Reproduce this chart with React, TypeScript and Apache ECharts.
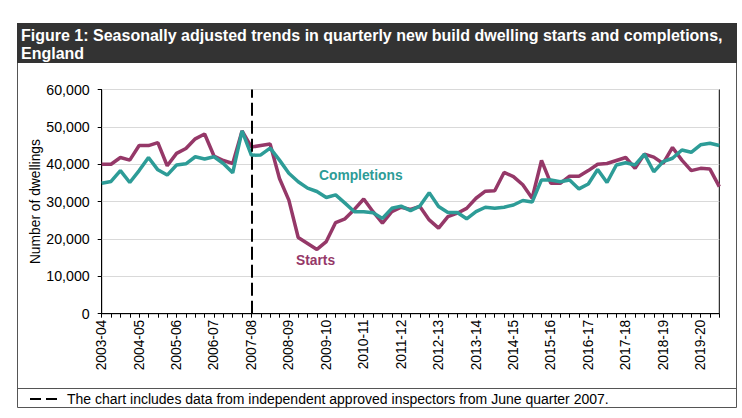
import React, { useEffect, useRef } from "react";
import * as echarts from "echarts";

const fiscalYears = [
  "2003-04", "2004-05", "2005-06", "2006-07", "2007-08", "2008-09",
  "2009-10", "2010-11", "2011-12", "2012-13", "2013-14", "2014-15",
  "2015-16", "2016-17", "2017-18", "2018-19", "2019-20",
];
const quarterNames = ["Apr-Jun", "Jul-Sep", "Oct-Dec", "Jan-Mar"];

// Seasonally adjusted quarterly new build dwelling starts, England (Apr-Jun 2003 to Oct-Dec 2019)
const starts = [
  40000, 40000, 41800, 41100, 45000, 45000, 45800, 39600,
  42900, 44200, 46800, 48100, 42200, 41000, 40200, 48900,
  44600, 45000, 45400, 36200, 30400, 20400, 18800, 17200,
  19300, 24400, 25400, 27900, 30700, 27300, 24200, 27300,
  28500, 27900, 28700, 25100, 22900, 26000, 26900, 28200,
  30900, 32800, 32900, 37800, 36700, 34500, 30900, 41000,
  34900, 34900, 36800, 36800, 38300, 40000, 40200, 41000,
  41800, 38900, 42700, 41900, 40200, 44500, 41100, 38300,
  38900, 38700, 34000,
];

// Seasonally adjusted quarterly new build dwelling completions, England
const completions = [
  34900, 35400, 38300, 35100, 38300, 41800, 38500, 37100,
  39800, 40100, 42000, 41400, 42000, 40200, 37700, 48900,
  42400, 42500, 44300, 41100, 37600, 35300, 33600, 32700,
  31100, 31800, 29600, 27300, 27300, 27000, 25500, 28200,
  28800, 27600, 28800, 32400, 28700, 27100, 27100, 25400,
  27300, 28500, 28200, 28500, 29100, 30300, 29900, 35800,
  35800, 35300, 35800, 33400, 34700, 38600, 35100, 39800,
  40400, 39800, 42700, 38000, 40700, 41600, 43800, 43200,
  45200, 45600, 45000,
];

const categories = fiscalYears
  .flatMap((y) => quarterNames.map((q) => `${y} ${q}`))
  .slice(0, starts.length);

const yTicks = [0, 10000, 20000, 30000, 40000, 50000, 60000];
const inspectorsFrom = "2007-08 Apr-Jun";

const titleLines = [
  "Figure 1: Seasonally adjusted trends in quarterly new build dwelling starts and completions,",
  "England",
];
const footnote =
  "The chart includes data from independent approved inspectors from June quarter 2007.";

const FONT = "'Liberation Sans', Arial, Helvetica, sans-serif";
const PURPLE = "#953868";
const TEAL = "#2D9C97";

export default function App() {
  const ref = useRef<HTMLDivElement>(null);

  useEffect(() => {
    if (!ref.current) return;
    const chart = echarts.init(ref.current, undefined, { renderer: "svg" });
    chart.setOption({
      animation: false,
      backgroundColor: "#ffffff",
      textStyle: { fontFamily: FONT },
      grid: {
        left: 101.7,
        right: 22.7,
        top: 89.5,
        bottom: 104.3,
        show: true,
        borderColor: "#000",
        borderWidth: 1,
        backgroundColor: "transparent",
      },
      xAxis: {
        type: "category",
        boundaryGap: false,
        data: categories,
        axisLine: { lineStyle: { color: "#000", width: 1 } },
        axisTick: { show: true, interval: 0, length: 4, lineStyle: { color: "#000" } },
        axisLabel: {
          interval: 3,
          rotate: 90,
          margin: 6,
          color: "#000",
          fontSize: 13.8,
          fontFamily: FONT,
          formatter: (v: string) => v.split(" ")[0],
        },
        splitLine: { show: false },
      },
      yAxis: {
        type: "value",
        min: yTicks[0],
        max: yTicks[yTicks.length - 1],
        interval: yTicks[1] - yTicks[0],
        name: "Number of dwellings",
        nameLocation: "middle",
        nameGap: 59,
        nameMoveOverlap: false,
        nameTextStyle: { color: "#000", fontSize: 13.8, fontFamily: FONT },
        axisLine: { show: true, lineStyle: { color: "#000", width: 1 } },
        axisTick: { show: true, length: 4, lineStyle: { color: "#000" } },
        axisLabel: {
          margin: 12,
          color: "#000",
          fontSize: 14.2,
          fontFamily: FONT,
          formatter: (v: number) => v.toLocaleString("en-GB"),
        },
        splitLine: { lineStyle: { color: "#d9d9d9", width: 1 } },
      },
      series: [
        {
          name: "Starts",
          type: "line",
          data: starts,
          symbol: "none",
          lineStyle: { color: PURPLE, width: 3.5 },
          itemStyle: { color: PURPLE },
          z: 2,
          markLine: {
            silent: true,
            symbol: ["none", "none"],
            label: { show: false },
            lineStyle: { color: "#000", type: [13, 5], width: 2 },
            data: [{ xAxis: inspectorsFrom }],
          },
        },
        {
          name: "Completions",
          type: "line",
          data: completions,
          symbol: "none",
          lineStyle: { color: TEAL, width: 3.5 },
          itemStyle: { color: TEAL },
          z: 3,
        },
      ],
      graphic: [
        {
          type: "rect",
          shape: { x: 17.5, y: 23.5, width: 719, height: 384 },
          style: { fill: "none", stroke: "#555", lineWidth: 1 },
          z: 0,
        },
        {
          type: "rect",
          shape: { x: 17, y: 23, width: 720, height: 40 },
          style: { fill: "#333333" },
          z: 1,
        },
        {
          type: "text",
          x: 21,
          y: 35.5,
          style: {
            text: titleLines[0],
            fill: "#fff",
            font: `bold 16px ${FONT}`,
            verticalAlign: "middle",
          },
          z: 2,
        },
        {
          type: "text",
          x: 21,
          y: 53.5,
          style: {
            text: titleLines[1],
            fill: "#fff",
            font: `bold 16px ${FONT}`,
            verticalAlign: "middle",
          },
          z: 2,
        },
        {
          type: "line",
          shape: { x1: 17.5, y1: 388.5, x2: 736.5, y2: 388.5 },
          style: { stroke: "#555", lineWidth: 1 },
        },
        {
          type: "line",
          shape: { x1: 30, y1: 399, x2: 60, y2: 399 },
          style: { stroke: "#000", lineWidth: 2, lineDash: [11, 5] },
        },
        {
          type: "text",
          x: 67,
          y: 399,
          style: {
            text: footnote,
            fill: "#000",
            font: `14px ${FONT}`,
            verticalAlign: "middle",
          },
        },
        {
          type: "text",
          x: 319,
          y: 175,
          style: {
            text: "Completions",
            fill: TEAL,
            font: `bold 13.8px ${FONT}`,
            verticalAlign: "middle",
          },
          z: 5,
        },
        {
          type: "text",
          x: 296,
          y: 260,
          style: {
            text: "Starts",
            fill: PURPLE,
            font: `bold 13.8px ${FONT}`,
            verticalAlign: "middle",
          },
          z: 5,
        },
      ],
    });
    return () => chart.dispose();
  }, []);

  return (
    <div
      ref={ref}
      style={{ position: "absolute", left: 0, top: 0, width: 742, height: 418 }}
    />
  );
}
